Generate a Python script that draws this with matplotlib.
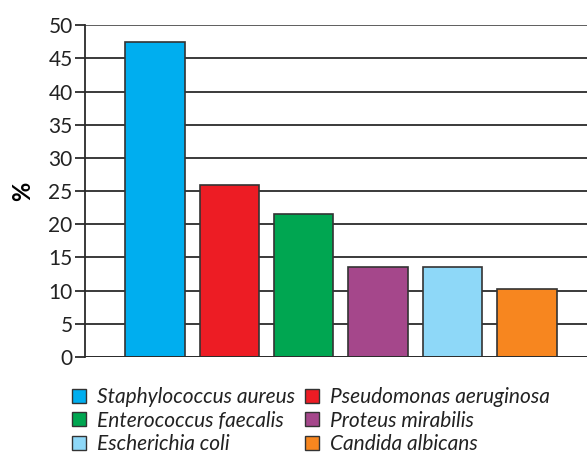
import matplotlib.pyplot as plt
from matplotlib.patches import Patch

organisms = ['Staphylococcus aureus', 'Pseudomonas aeruginosa', 'Enterococcus faecalis',
             'Proteus mirabilis', 'Escherichia coli', 'Candida albicans']
percent = [47.4, 25.9, 21.6, 13.5, 13.5, 10.2]
colors = ['#00AEEF', '#ED1C24', '#00A651', '#A5478B', '#8ED8F8', '#F7861F']

plt.rcParams['font.family'] = ['Lato', 'DejaVu Sans']

fig = plt.figure(figsize=(5.87, 4.58), dpi=100)
ax = fig.add_axes([0.145, 0.2205, 0.855, 0.7245])

x = list(range(len(percent)))
ax.set_axisbelow(True)
ax.yaxis.grid(True, color='#2b2b2b', linewidth=1.3)
ax.bar(x, percent, width=0.8, color=colors, edgecolor='#333333', linewidth=1.2, zorder=3)

ax.set_xlim(-0.94, 5.81)
ax.set_ylim(0, 50)
ax.set_yticks(range(0, 51, 5))
ax.set_xticks([])
for side in ['top', 'right', 'bottom']:
    ax.spines[side].set_visible(False)
ax.spines['left'].set_color('#2b2b2b')
ax.spines['left'].set_linewidth(1.3)
ax.axhline(0, color='#2b2b2b', linewidth=1.3, zorder=4)
ax.axhline(50, color='#666666', linewidth=1.3)
ax.tick_params(axis='y', length=7, width=1.3, color='#2b2b2b', labelsize=15,
               labelcolor='#222222', pad=2)
ax.set_ylabel('%', fontsize=17, fontweight='bold', labelpad=10)

# two columns, filled row by row
order = [0, 2, 4, 1, 3, 5]
handles = [Patch(facecolor=colors[i], edgecolor='#333333', linewidth=1.0) for i in order]
labels = [organisms[i] for i in order]
leg = fig.legend(handles, labels, ncol=2, loc='upper left', bbox_to_anchor=(0.105, 0.178),
                 frameon=False, prop={'size': 15, 'style': 'italic'},
                 handlelength=0.65, handleheight=0.65, handletextpad=0.55,
                 columnspacing=0.5, labelspacing=0.18, borderpad=0)
for t in leg.get_texts():
    t.set_color('#222222')

fig.savefig('out.png', dpi=100)
